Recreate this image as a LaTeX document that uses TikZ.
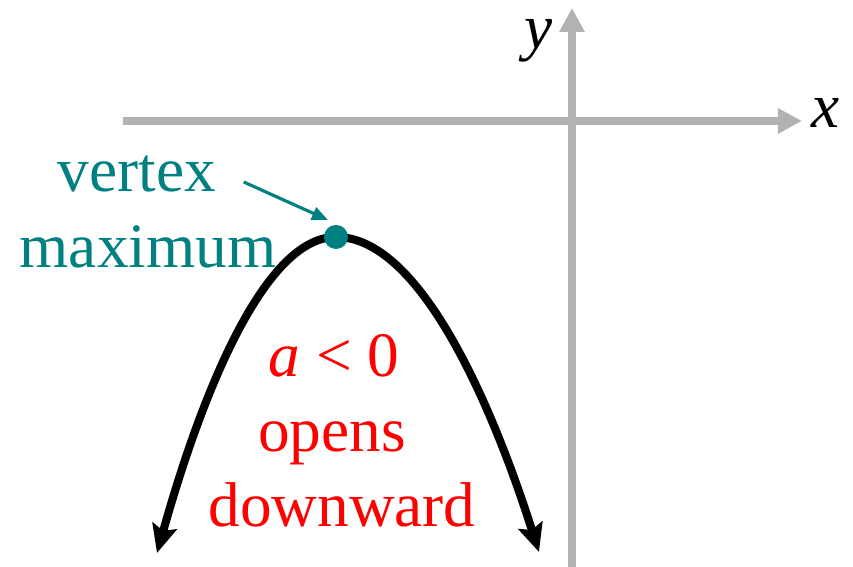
\documentclass[tikz,border=0pt]{standalone}
\usepackage{fontspec}
\setmainfont{Liberation Serif}
\usetikzlibrary{arrows.meta}

\begin{document}
\begin{tikzpicture}[
  every node/.style={font=\fontsize{18}{21}\selectfont},
  axis/.style={draw=black!30, line width=2.2pt, -{Triangle[length=2.4mm,width=2.4mm]}},
  curve/.style={line width=2.3pt, {Stealth[length=2.8mm,width=2.5mm,inset=0.5mm]}-{Stealth[length=2.8mm,width=2.5mm,inset=0.5mm]}},
  teallbl/.style={text=teal, inner sep=0pt, anchor=base},
  redlbl/.style={text=red, inner sep=0pt, anchor=base},
  dotnode/.style={circle, fill=teal, minimum size=2.4mm, inner sep=0pt},
  ptr/.style={draw=teal, line width=0.9pt, -{Triangle[length=1.6mm,width=1.3mm]}},
]
  \useasboundingbox (0,0) rectangle (8.53,5.67);
  % axes
  \coordinate (xl) at (1.23,4.46);
  \coordinate (xr) at (8.02,4.46);
  \coordinate (yb) at (5.72,0);
  \coordinate (yt) at (5.72,5.59);
  \draw[axis] (xl) -- (xr);
  \draw[axis] (yb) -- (yt);
  \node[inner sep=0pt] (xlab) at (8.26,4.54) {\textit{x}};
  \node[inner sep=0pt] (ylab) at (5.39,5.26) {\textit{y}};
  % parabola
  \coordinate (vtx) at (3.36,3.30);
  \coordinate (pl) at (1.57,0.14);
  \coordinate (pr) at (5.39,0.15);
  \draw[curve] (pl) parabola bend (vtx) (pr);
  \node[dotnode] (dot) at (vtx) {};
  % labels
  \node[teallbl] (vtxlbl) at (1.37,3.75) {vertex};
  \node[teallbl] (maxlbl) at (1.48,2.99) {maximum};
  \draw[ptr] ([shift={(0.27,0.10)}]vtxlbl.base east) -- ([shift={(-0.08,0.17)}]dot.center);
  \node[redlbl] (cond) at (3.34,1.90) {\textit{a} < 0};
  \node[redlbl] (opens) at (3.32,1.15) {opens};
  \node[redlbl] (down) at (3.42,0.40) {downward};
\end{tikzpicture}
\end{document}
